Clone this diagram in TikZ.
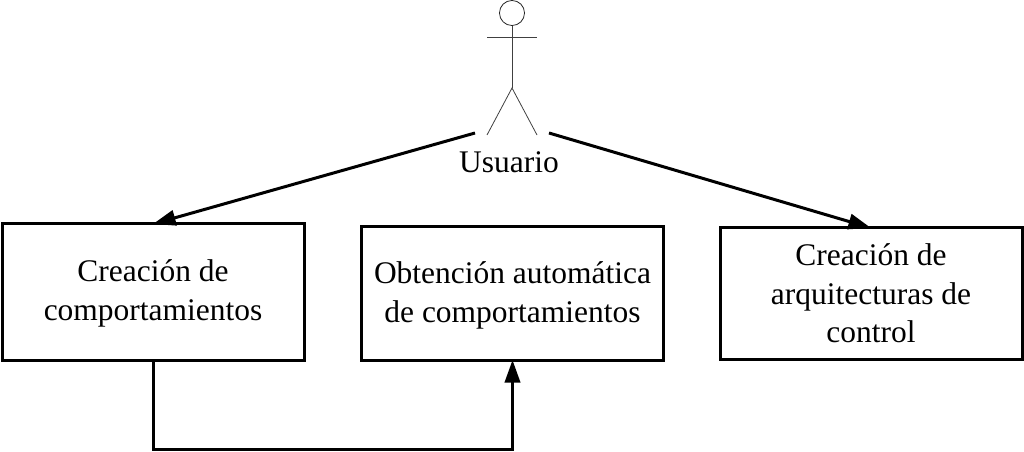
\documentclass[tikz,border=0pt]{standalone}
\usepackage{fontspec}
\setmainfont{Liberation Serif}
\usetikzlibrary{arrows.meta}
\newcommand{\topstrut}{\rule{0pt}{19pt}}
\tikzset{
  box/.style={draw=black,line width=2.25pt,outer sep=0pt,align=center,font=\fontsize{23.6}{29}\selectfont,inner sep=0pt},
  conn/.style={draw=black,line width=2.25pt,-{Triangle[length=17pt,width=11.5pt]}},
  actor/.style={draw=black!75,line width=0.75pt}
}
\begin{document}
\begin{tikzpicture}[x=0.75pt,y=-0.75pt]
\useasboundingbox (0,0) rectangle (1024,452);
\node[box,minimum width=226.5pt,minimum height=102pt] (a) at (153,292) {\topstrut Creación de\\comportamientos};
\node[box,minimum width=227pt,minimum height=99.75pt] (b) at (512.5,293.5) {\topstrut Obtención automática\\de comportamientos};
\node[box,minimum width=226.5pt,minimum height=98.25pt] (c) at (871,293.5) {Creación de\\arquitecturas de\\control};
\node[font=\fontsize{23.6}{29}\selectfont,inner sep=0pt] (u) at (509,162) {Usuario};
\node[draw=black!85,line width=0.6pt,circle,minimum size=18.8pt,inner sep=0pt] (head) at (512,13) {};
\coordinate (neck) at (head.south);
\coordinate (hip) at (512,88);
\coordinate (la) at (487,37.5);
\coordinate (ra) at (537,37.5);
\coordinate (lf) at (487,135);
\coordinate (rf) at (537,135);
\draw[actor] (neck) -- (hip);
\draw[actor] (la) -- (ra);
\draw[actor,line width=0.6pt] (lf) -- (hip) -- (rf);
\coordinate (s1) at (475,133);
\coordinate (s2) at (549,133);
\draw[conn] (s1) -- (a.north);
\draw[conn] (s2) -- (c.north);
\draw[conn] (a.south) -- ++(0,89) -| (b.south);
\end{tikzpicture}
\end{document}
